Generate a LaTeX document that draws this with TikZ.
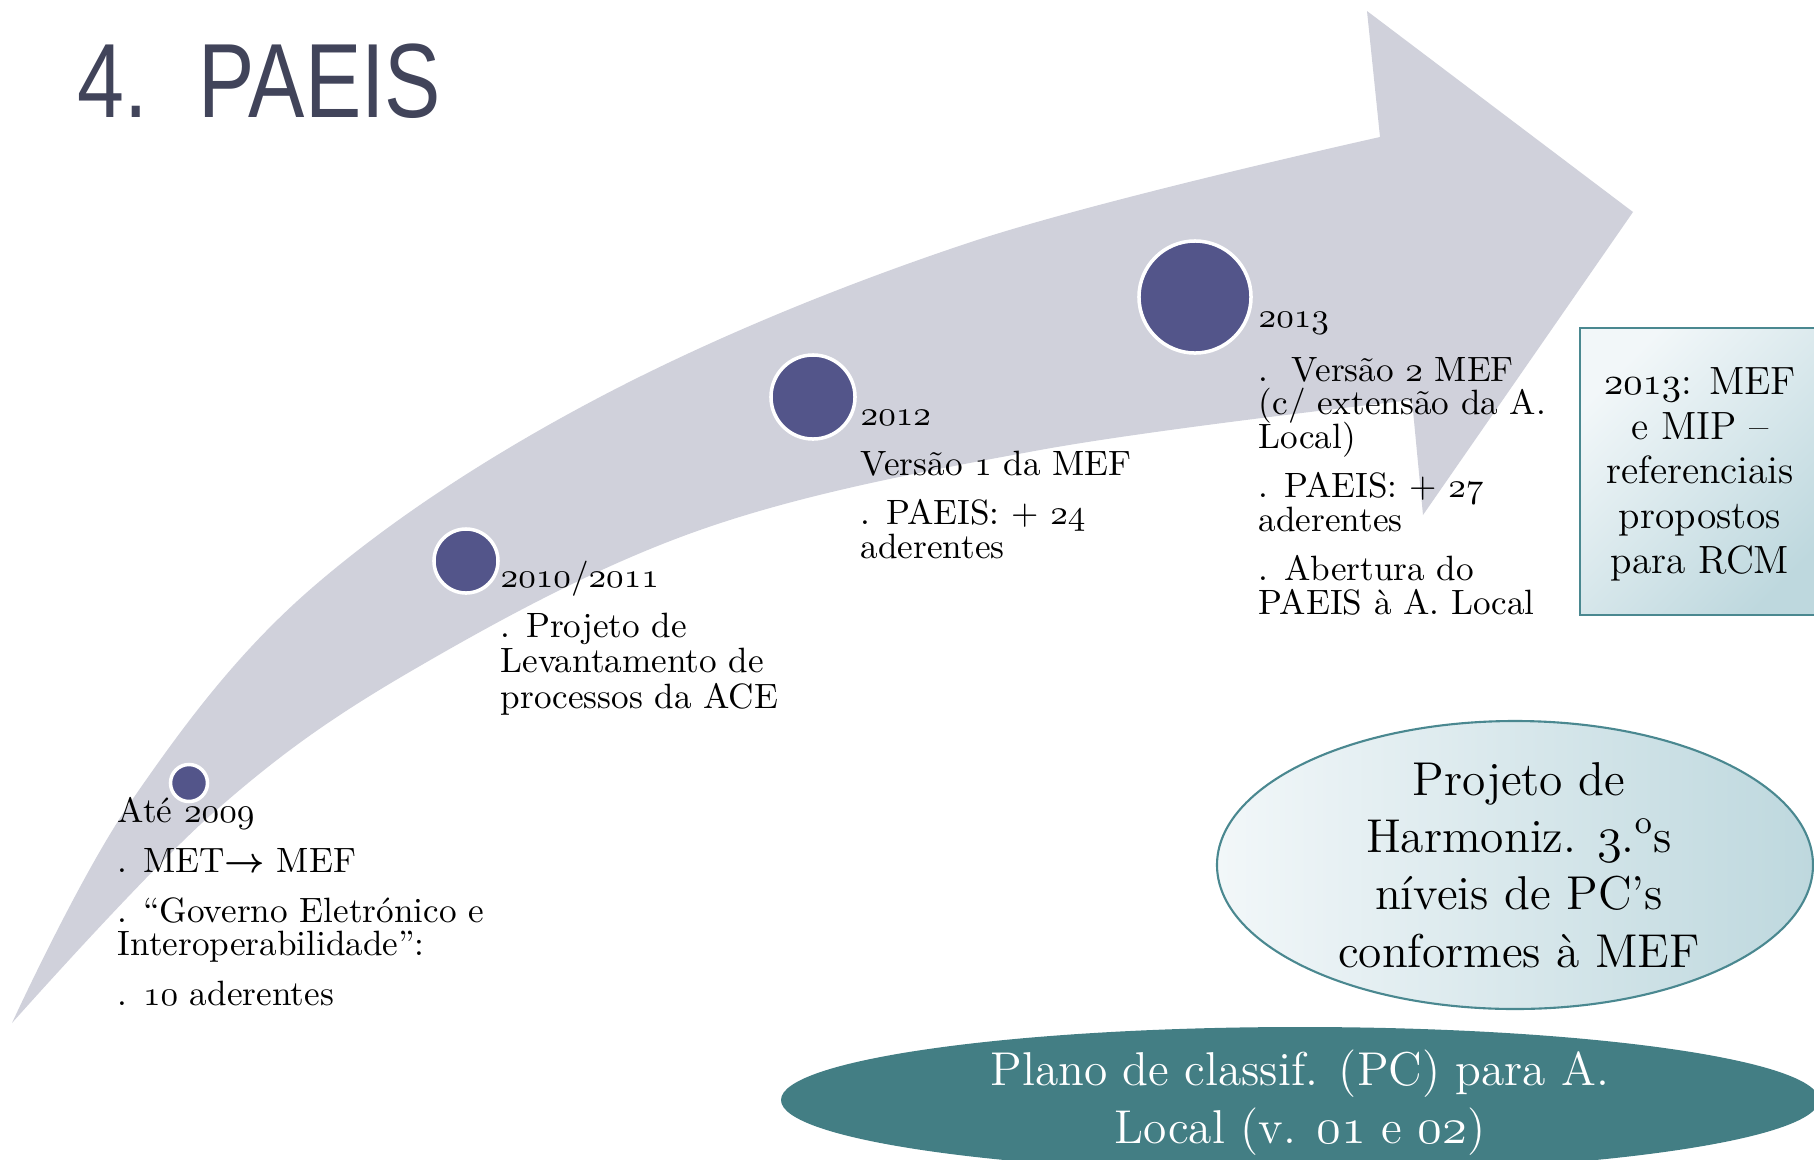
\documentclass[tikz,border=0pt]{standalone}
\usepackage{fontspec}
\newfontfamily\titlefont{Liberation Sans}
\definecolor{arrowGray}{RGB}{208,209,219}
\definecolor{dotBlue}{RGB}{83,85,138}
\definecolor{titleInk}{RGB}{65,68,90}
\definecolor{tealEdge}{RGB}{74,136,144}
\definecolor{tealFill}{RGB}{67,126,132}
\definecolor{boxLight}{RGB}{242,247,249}
\definecolor{boxDark}{RGB}{190,216,222}
\newcommand{\oldNum}[1]{\ensuremath{\mathnormal{#1}}}
\newcommand{\tightLines}{\lineskiplimit-6pt\relax}

\begin{document}
\begin{tikzpicture}[x=0.01cm,y=-0.01cm,%%
  dotStyle/.style={circle,fill=dotBlue,draw=white,line width=1pt,inner sep=0pt},%%
  stageStyle/.style={anchor=base west,align=left,inner sep=0pt,%%
    font=\fontsize{10}{9.4}\selectfont\tightLines},%%
  boxStyle/.style={anchor=base,align=center,inner sep=0pt,%%
    font=\fontsize{11.2}{12.7}\selectfont\tightLines},%%
  ovalStyle/.style={anchor=base,align=center,inner sep=0pt,%%
    font=\fontsize{13.5}{16.3}\selectfont\tightLines}%%
]
%%
\pgfmathsetmacro{\pageW}{1814}
\pgfmathsetmacro{\pageH}{1160}
\pgfmathsetmacro{\paraSkip}{4.8}
%%
\coordinate (upperLeft) at (0,0);
\coordinate (lowerRight) at (\pageW,\pageH);
\useasboundingbox (upperLeft) rectangle (lowerRight);
\clip (upperLeft) rectangle (lowerRight);
%%
%% The big curved arrow behind the time line.
\fill[arrowGray] plot[smooth,tension=0.6] coordinates {(12,1023) (130,803) (313,587)
    (600,397) (968,243) (1380,137)}
  -- (1367,11) -- (1633,212) -- (1423,515) -- (1412,400)
  -- plot[smooth,tension=0.6] coordinates {(1412,400) (1040,450) (700,530) (413,670)
    (213,813) (12,1023)}
  -- cycle;
%%
%% Title.
\node[anchor=base west,inner sep=0pt,text=titleInk,font=\titlefont\fontsize{30}{36}\selectfont]
  (title) at (77,117) {\scalebox{0.8}[1]{4.\hspace{18pt}PAEIS}};
%%
%% Dots on the time line.
\node[dotStyle,minimum size=0.37cm] (dot2009) at (189,783) {};
\node[dotStyle,minimum size=0.64cm] (dot2010) at (466,561) {};
\node[dotStyle,minimum size=0.84cm] (dot2012) at (813,397) {};
\node[dotStyle,minimum size=1.12cm] (dot2013) at (1195,297) {};
%%
%% Stages (each node sits on the baseline of its last line).
\node[stageStyle] (stage2009) at (117,1005) {Até \oldNum{2009}\\[\paraSkip pt]
  . MET{\boldmath$\rightarrow$} MEF\\[\paraSkip pt]
  . “Governo Eletrónico e\\Interoperabilidade”:\\[\paraSkip pt]
  . \oldNum{10} aderentes};
\node[stageStyle] (stage2010) at (500,708) {\oldNum{2010/2011}\\[\paraSkip pt]
  . Projeto de\\[0.6pt]Levantamento de\\[0.6pt]processos da ACE};
\node[stageStyle] (stage2012) at (860,558) {\oldNum{2012}\\[\paraSkip pt]
  Versão \oldNum{1} da MEF\\[\paraSkip pt]
  . PAEIS: + \oldNum{24}\\aderentes};
\node[stageStyle] (stage2013) at (1258,614) {\oldNum{2013}\\[6pt]
  .\ \ Versão \oldNum{2} MEF\\(c/ extensão da A.\\Local)\\[\paraSkip pt]
  . PAEIS: + \oldNum{27}\\aderentes\\[\paraSkip pt]
  . Abertura do\\PAEIS à A. Local};
%%
%% Box with the 2013 references.
\shade[top color=boxLight,bottom color=boxDark,shading angle=45,draw=tealEdge,line width=0.6pt]
  (1580,328) rectangle (1830,615);
\node[boxStyle] (refBox) at (1700,573) {\oldNum{2013}: MEF\\e MIP –\\referenciais\\propostos\\para RCM};
%%
%% Harmonization oval.
\shade[left color=boxLight,right color=boxDark,draw=tealEdge,line width=0.6pt]
  (1515,865) ellipse [x radius=298,y radius=144];
\node[ovalStyle] (harmOval) at (1519,967) {Projeto de\\Harmoniz. \oldNum{3}.\textsuperscript{o}s\\níveis de PC’s\\conformes à MEF};
%%
%% Classification plan oval.
\fill[tealFill] (1300,1100) ellipse [x radius=519,y radius=73];
\node[ovalStyle,text=white] (planOval) at (1300,1143) {Plano de classif. (PC) para A.\\Local (v. \oldNum{01} e \oldNum{02})};
\end{tikzpicture}
\end{document}
